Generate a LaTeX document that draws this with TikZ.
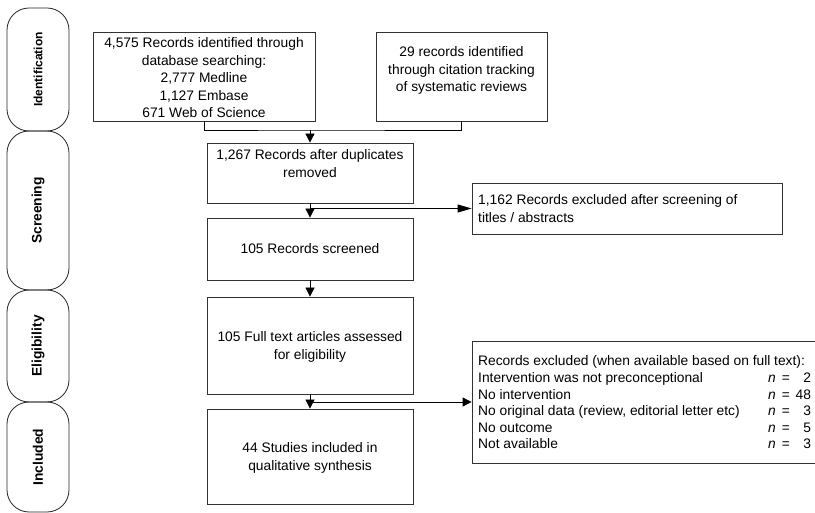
\documentclass[tikz,border=0pt]{standalone}
\usepackage{fontspec}
\setmainfont{Liberation Sans}
\usetikzlibrary{arrows.meta}

% lines stacked in a top-aligned column, baseline on the first line
\newcommand\stacklines[2][c]{\begin{tabular}[t]{@{}#1@{}}#2\end{tabular}}
% count column of the exclusion list: "n =" then the number, right-aligned
\newcommand\ncount[1]{\textit{n}\hspace{6pt}=\hspace{4pt}\makebox[17pt][r]{#1}}

\begin{document}
\begin{tikzpicture}[x=1pt,y=-1pt,
  every node/.style={inner sep=0pt},
  stage/.style={draw=black!85, line width=0.8pt, rounded corners=22pt, rotate=90,
                minimum height=62pt, font=\bfseries\fontsize{13.8}{16}\selectfont},
  box/.style={draw=black!80, line width=0.8pt, rectangle},
  txt/.style={anchor=base, font=\fontsize{13.8}{17.4}\selectfont},
  ltxt/.style={txt, anchor=base west},
  link/.style={line width=0.8pt, black},
  arr/.style={link, -{Triangle[length=9pt,width=9pt]}},
  longarr/.style={link, -{Triangle[length=14pt,width=8pt]}},
]
\clip (0,0) rectangle (815,513);

% phase column
\node[stage, minimum width=123pt, font=\bfseries\fontsize{12}{14}\selectfont] (sid) at (38,69.5) {Identification};
\node[stage, minimum width=159pt] (sscr) at (38,210.5) {Screening};
\node[stage, minimum width=112pt] (selig) at (38,346) {Eligibility};
\node[stage, minimum width=110pt] (sincl) at (38,457) {Included};

% record boxes
\node[box, minimum width=222pt, minimum height=89pt] (src) at (204,76.5) {};
\node[txt] (srct) at (204,48) {\stacklines{4,575 Records identified through\\database searching:\\2,777 Medline\\1,127 Embase\\671 Web of Science}};

\node[box, minimum width=171pt, minimum height=89pt] (cit) at (461.5,76.5) {};
\node[txt] (citt) at (461.5,57) {\stacklines{29 records identified\\through citation tracking\\of systematic reviews}};

\node[box, minimum width=206pt, minimum height=60pt] (dup) at (310,173) {};
\node[txt] (dupt) at (310,160) {\stacklines{1,267 Records after duplicates\\removed}};

\node[box, minimum width=206pt, minimum height=62pt] (scr) at (310,249) {};
\node[txt] (scrt) at (310,254) {105 Records screened};

\node[box, minimum width=206pt, minimum height=97pt] (full) at (310,345.5) {};
\node[txt] (fullt) at (310,342) {\stacklines{105 Full text articles assessed\\for eligibility}};

\node[box, minimum width=206pt, minimum height=95pt] (inc) at (310,456.5) {};
\node[txt] (inct) at (310,453) {\stacklines{44 Studies included in\\qualitative synthesis}};

% exclusion boxes
\node[box, minimum width=310pt, minimum height=51pt] (ex1) at (627,208.5) {};
\node[ltxt] (ex1t) at (478,205) {\stacklines[l]{1,162 Records excluded after screening of\\titles / abstracts}};

\node[box, minimum width=368pt, minimum height=122pt] (ex2) at (656,402) {};
\node[ltxt, font=\fontsize{13.8}{16.6}\selectfont] (ex2t) at (478,366) {\begin{tabular}[t]{@{}p{290pt}@{}l@{}}
  \multicolumn{2}{@{}l@{}}{Records excluded (when available based on full text):}\\
  Intervention was not preconceptional & \ncount{2}\\
  No intervention & \ncount{48}\\
  No original data (review, editorial letter etc) & \ncount{3}\\
  No outcome & \ncount{5}\\
  Not available & \ncount{3}
\end{tabular}};

% connectors
\coordinate (merge) at (310,130);
\draw[link] (src.south) |- (merge) -| (cit.south);
\draw[arr] (merge) -- (dup.north);
\draw[arr] (dup.south) -- (scr.north);
\coordinate (split1) at (dup.south |- ex1.west);
\draw[longarr] (split1) -- (ex1.west);
\draw[arr] (scr.south) -- (full.north);
\draw[arr] (full.south) -- (inc.north);
\coordinate (split2) at (full.south |- ex2.west);
\draw[arr] (split2) -- (ex2.west);
\end{tikzpicture}
\end{document}
